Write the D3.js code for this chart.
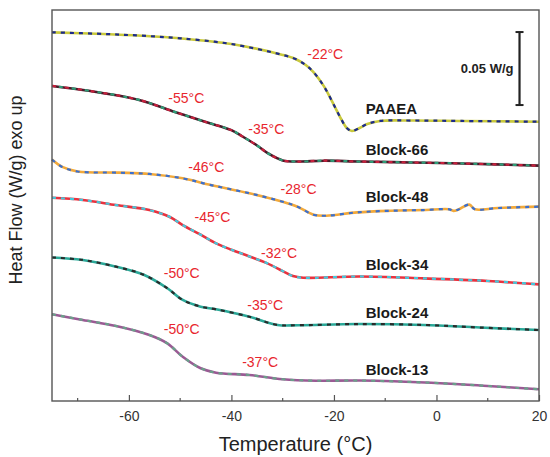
<!DOCTYPE html>
<html>
<head>
<meta charset="utf-8">
<title>DSC curves</title>
<style>
body { margin: 0; background: #fff; font-family: 'Liberation Sans', Arial, sans-serif; }
svg { display: block; }
.frame { fill: none; stroke: #555; stroke-width: 1.4; }
.tick line { stroke: #555; stroke-width: 1.2; }
.tick text { font-size: 14px; fill: #333; }
.tg { font-size: 14px; fill: #e8262e; text-anchor: middle; }
.name { font-size: 15px; font-weight: bold; fill: #1a1a1a; }
.axis-label { font-size: 19px; fill: #222; text-anchor: middle; }
</style>
<script src="https://cdn.jsdelivr.net/npm/d3@7"></script>
</head>
<body>
<script>
// temperatures (°C) and heat flow offsets (mW/g)
var paaeaT = [-75, -65, -57.5, -50, -40, -30, -27.5, -25.5, -24, -22, -20, -18.5, -17.5, -16.5, -15, -13.5, -11, -5, 5, 20];
var paaeaV = [252.5, 251.4, 250.2, 248.4, 244.5, 237.0, 234.2, 230.1, 225.3, 215.8, 202.7, 192.5, 187.0, 184.9, 187.0, 189.7, 191.8, 192.1, 191.8, 191.3];

var b66T = [-75, -67.5, -58, -51.5, -45, -40, -38, -35, -33, -30, -27, -22, -15, -5, 5, 20];
var b66V = [215.8, 212.3, 206.2, 198.5, 191.1, 185.5, 181.5, 175.0, 169.9, 164.8, 164.0, 164.6, 164.0, 163.4, 162.7, 161.2];

var b48T = [-75, -73, -70, -62, -56, -49.5, -44, -36.5, -30, -27, -24, -21.5, -15.5, -9, -2.5, 2.5, 3.3, 4.3, 6.4, 7.5, 12, 20];
var b48V = [165.4, 160.3, 157.2, 156.4, 155.5, 152.5, 147.9, 142.3, 136.5, 132.9, 127.6, 126.9, 129.2, 130.3, 130.8, 131.3, 130.2, 131.2, 134.5, 131.3, 132.2, 133.1];

var b34T = [-75, -69, -62.5, -56, -52, -49.5, -46, -43, -40, -36.5, -33, -30, -28, -26, -15, -2.5, 10, 20];
var b34V = [139.2, 137.7, 134.2, 130.8, 126.0, 120.5, 113.9, 108.0, 103.6, 99.0, 94.3, 89.0, 85.6, 84.4, 85.3, 84.0, 82.2, 79.9];

var b24T = [-75, -69, -62.5, -57, -52.5, -49.5, -46, -43, -36.5, -31, -27, -15.5, -2.5, 8.5, 20];
var b24V = [98.3, 96.6, 92.0, 86.3, 77.2, 69.2, 64.6, 62.8, 57.7, 52.1, 51.9, 52.7, 52.1, 50.3, 48.6];

var b13T = [-75, -69, -62.5, -56, -52.5, -49.5, -46, -43, -36.5, -30, -23.5, -15, -1, 10, 20];
var b13V = [59.4, 55.5, 51.4, 45.2, 39.5, 30.3, 22.4, 19.4, 17.8, 14.9, 13.9, 14.0, 12.5, 10.3, 8.0];

var sampleNames = ["PAAEA", "Block-66", "Block-48", "Block-34", "Block-24", "Block-13"];
var sampleColors = ["#c9c93c", "#4a1a2a", "#f2a93a", "#e8323e", "#2aa898", "#9a5a94"];
var dashColors = ["#1c2a8c", "#c8203c", "#3a6fd0", "#44c8dc", "#2a2a2a", "#6aa08a"];
var nameAt = [[-13.8, 200.0], [-13.8, 171.9], [-13.8, 139.7], [-13.8, 93.2], [-13.8, 60.5], [-13.8, 21.2]];

var tgText = ["-22°C", "-55°C", "-35°C", "-46°C", "-28°C", "-45°C", "-32°C", "-50°C", "-35°C", "-50°C", "-37°C"];
var tgAt = [[-21.7, 237.7], [-48.8, 207.5], [-33.2, 186.3], [-44.9, 160.3], [-26.9, 145.2], [-43.7, 126.2],
            [-30.7, 101.2], [-49.7, 87.5], [-33.4, 65.8], [-49.7, 49.3], [-34.4, 26.9]];

var xTicks = [-60, -40, -20, 0, 20];
var xMinor = [-70, -50, -30, -10, 10];
var scaleBar = [202.7, 252.7]; // 0.05 W/g
var scaleBarT = 16.2;

var width = 550, height = 457;
var plotLeft = 52, plotRight = 539, plotTop = 10, plotBottom = 401;

var svg = d3.select("body").append("svg")
    .attr("width", width)
    .attr("height", height);

var x = d3.scaleLinear().domain([-75, 20]).range([plotLeft, plotRight]);
var y = d3.scaleLinear().domain([0, 267.8]).range([plotBottom, plotTop]);

var line = d3.line()
    .x(function (d) { return x(d[0]); })
    .y(function (d) { return y(d[1]); })
    .curve(d3.curveCatmullRom.alpha(0.5));

var series = [[paaeaT, paaeaV], [b66T, b66V], [b48T, b48V], [b34T, b34V], [b24T, b24V], [b13T, b13V]];

series.forEach(function (s, i) {
    var pts = d3.zip(s[0], s[1]);
    svg.append("path")
        .attr("d", line(pts))
        .attr("fill", "none")
        .attr("stroke", sampleColors[i])
        .attr("stroke-width", 2.6);
    svg.append("path")
        .attr("d", line(pts))
        .attr("fill", "none")
        .attr("stroke", dashColors[i])
        .attr("stroke-width", 2.2)
        .attr("stroke-dasharray", i == 1 ? "4,9" : "4,5");
    if (i == 1) {
        svg.append("path")
            .attr("d", line(pts))
            .attr("fill", "none")
            .attr("stroke", "#2e9e78")
            .attr("stroke-width", 2.2)
            .attr("stroke-dasharray", "4,9")
            .attr("stroke-dashoffset", 6);
    }
    svg.append("text")
        .attr("class", "name")
        .attr("x", x(nameAt[i][0]))
        .attr("y", y(nameAt[i][1]))
        .attr("dy", "0.36em")
        .text(sampleNames[i]);
});

// glass transition labels
svg.selectAll(".tg").data(tgText).enter().append("text")
    .attr("class", "tg")
    .attr("x", function (d, i) { return x(tgAt[i][0]); })
    .attr("y", function (d, i) { return y(tgAt[i][1]); })
    .attr("dy", "0.36em")
    .text(function (d) { return d; });

// scale bar
var bx = x(scaleBarT);
svg.append("line").attr("x1", bx).attr("x2", bx)
    .attr("y1", y(scaleBar[0])).attr("y2", y(scaleBar[1]))
    .attr("stroke", "#222").attr("stroke-width", 2.2);
scaleBar.forEach(function (v) {
    svg.append("line").attr("x1", bx - 4).attr("x2", bx + 4)
        .attr("y1", y(v)).attr("y2", y(v))
        .attr("stroke", "#222").attr("stroke-width", 2);
});
svg.append("text")
    .attr("x", bx - 6)
    .attr("y", y((scaleBar[0] + scaleBar[1]) / 2))
    .attr("dy", "0.36em")
    .attr("text-anchor", "end")
    .style("font-size", "13px")
    .style("font-weight", "bold")
    .style("fill", "#222")
    .text("0.05 W/g");

// x axis, ticks pointing inward
var xAxis = svg.append("g")
    .attr("transform", "translate(0," + plotBottom + ")")
    .call(d3.axisBottom(x).tickValues(xTicks).tickSizeInner(-6).tickSizeOuter(0).tickPadding(8)
        .tickFormat(d3.format("d")));
xAxis.select(".domain").remove();
xAxis.selectAll("text").attr("dy", "0.85em").text(function (d) { return d < 0 ? "-" + Math.abs(d) : d; });

svg.append("g")
    .attr("transform", "translate(0," + plotBottom + ")")
    .selectAll("line").data(xMinor).enter().append("line")
    .attr("x1", function (d) { return x(d); })
    .attr("x2", function (d) { return x(d); })
    .attr("y1", 0).attr("y2", -3)
    .attr("stroke", "#555").attr("stroke-width", 1.2);

svg.append("rect")
    .attr("class", "frame")
    .attr("x", plotLeft).attr("y", plotTop)
    .attr("width", plotRight - plotLeft).attr("height", plotBottom - plotTop);

svg.append("text")
    .attr("class", "axis-label")
    .attr("x", (plotLeft + plotRight) / 2)
    .attr("y", 451)
    .style("font-size", "20px")
    .text("Temperature (°C)");

svg.append("text")
    .attr("class", "axis-label")
    .attr("transform", "translate(22," + 190 + ") rotate(-90)")
    .style("font-size", "18px")
    .text("Heat Flow (W/g) exo up");
</script>
</body>
</html>
